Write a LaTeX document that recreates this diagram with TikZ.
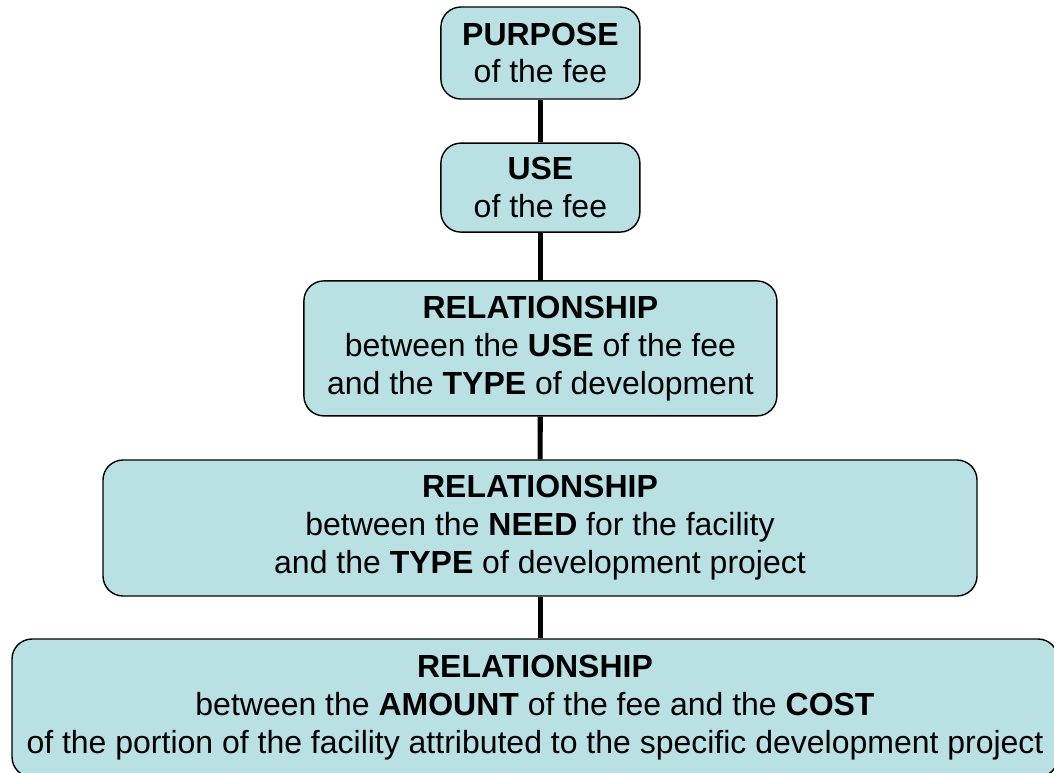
\documentclass[tikz,border=0pt]{standalone}
\usepackage{fontspec}
\setmainfont{Liberation Sans}
\usepackage{xcolor}
\usepackage{tikz}
\usetikzlibrary{positioning}
\definecolor{boxfill}{RGB}{185, 224, 227}

\begin{document}
\begin{tikzpicture}[
    stage/.style={rectangle, rounded corners=0.5cm, draw=black, line width=1pt, fill=boxfill, align=center, inner sep=0pt, font=\fontsize{22.75}{27}\selectfont},
    link/.style={line width=3.6pt}
]
    \useasboundingbox (0,0) rectangle (26.35,-19.3);
    \node[stage, minimum width=4.975cm, minimum height=2.3cm] (purpose) at (13.51,-1.325) {\textbf{PURPOSE}\\ of the fee};
    \node[stage, minimum width=4.975cm, minimum height=2.225cm] (use) at (13.51,-4.69) {\textbf{USE}\\of the fee};
    \node[stage, minimum width=11.825cm, minimum height=3.375cm] (reluse) at (13.51,-8.71) {\textbf{RELATIONSHIP}\\ between the \textbf{USE} of the fee\\and the \textbf{TYPE} of development};
    \node[stage, minimum width=21.85cm, minimum height=3.4cm] (relneed) at (13.5,-13.2) {\textbf{RELATIONSHIP}\\between the \textbf{NEED} for the facility\\and the \textbf{TYPE} of development project};
    \node[stage, minimum width=26.15cm, minimum height=3.45cm] (relamount) at (13.375,-17.7) {\textbf{RELATIONSHIP}\\between the \textbf{AMOUNT} of the fee and the \textbf{COST}\\of the portion of the facility attributed to the specific development project};

    \draw[link] (purpose) -- (use);
    \draw[link] (use) -- (reluse);
    \draw[link] (reluse) -- (relneed);
    \draw[link] (relneed.south -| reluse.south) -- (relamount.north -| reluse.south);
\end{tikzpicture}
\end{document}
